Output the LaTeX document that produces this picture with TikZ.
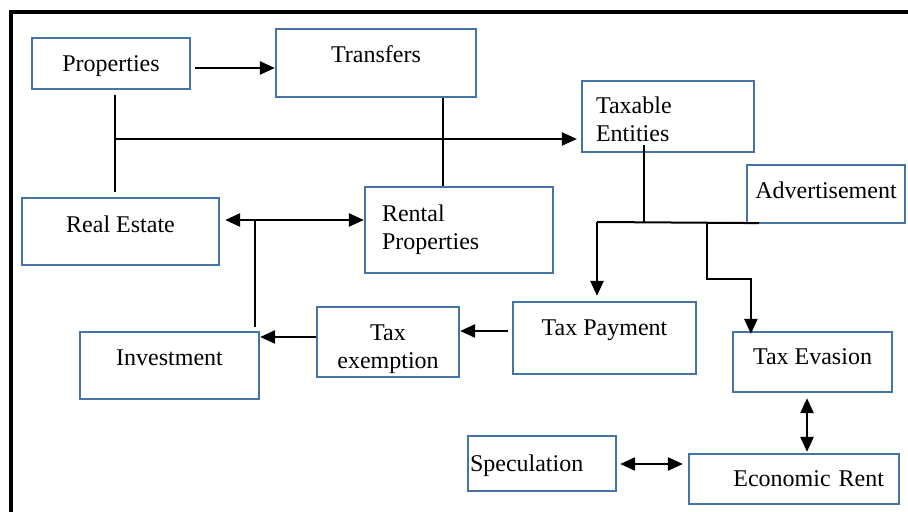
\documentclass[tikz,border=0pt]{standalone}
\usepackage{fontspec}
\setmainfont{Liberation Serif}
\usepackage{tikz}
\usetikzlibrary{arrows.meta,calc}
\definecolor{boxblue}{RGB}{70,115,165}

\begin{document}
\begin{tikzpicture}[x=0.5pt, y=-0.5pt, font=\fontsize{12}{14}\selectfont,
  >={Triangle[length=7.5pt,width=6.5pt]},
  box/.style={draw=boxblue, line width=1.1pt, inner sep=0pt, align=center},
  link/.style={line width=0.8pt},
  arr/.style={->, line width=1.2pt},
  darr/.style={<->, line width=1.2pt}]
\useasboundingbox (0,0) rectangle (908,512);
\draw[line width=2pt] (11.3,512) -- (11.3,12) -- (908,12);
% boxes
\node[box, minimum width=79pt, minimum height=25.5pt, text depth=0pt] (prop) at (111,63.5) {Properties};
\node[box, minimum width=100pt, minimum height=34pt, text depth=9pt] (trans) at (376,63) {Transfers};
\node[box, minimum width=86pt, minimum height=35.5pt, text width=72pt, inner xsep=7pt, align=left, text depth=11pt] (taxable) at (668,116.5) {Taxable\\Entities};
\node[box, minimum width=79pt, minimum height=29pt, text depth=3.5pt] (advert) at (826,194) {Advertisement};
\node[box, minimum width=98.5pt, minimum height=33.5pt, text depth=7pt] (real) at (120.5,231.5) {Real Estate};
\node[box, minimum width=94pt, minimum height=43pt, text width=77pt, inner xsep=8.5pt, align=left] (rental) at (459,230) {Rental\\Properties};
\node[box, minimum width=91.5pt, minimum height=36pt, text depth=10pt] (taxpay) at (604.5,338) {Tax Payment};
\node[box, minimum width=79.5pt, minimum height=30pt, text depth=5pt] (taxev) at (812.5,362) {Tax Evasion};
\node[box, minimum width=71pt, minimum height=35pt, text width=60pt, inner xsep=5.5pt, text depth=9.5pt] (taxex) at (388,342) {Tax\\exemption};
\node[box, minimum width=89.5pt, minimum height=33.5pt, text depth=8pt] (invest) at (169.5,365.5) {Investment};
\node[box, minimum width=74pt, minimum height=27.5pt, text width=72pt, inner xsep=1pt, align=left, text depth=0pt] (spec) at (542,463.5) {Speculation};
\node[box, minimum width=105pt, minimum height=25pt, text width=90pt, inner xsep=7.5pt, align=right] (econ) at (794,479) {Economic Rent};
% top part
\coordinate (pa) at ($(prop.east)+(4,4.5)$);
\draw[arr] (pa) -- (pa -| trans.west);
\coordinate (pj) at (115,139);
\draw[link] ($(pj |- prop.south)+(0,5)$) -- ($(pj |- real.north)+(0,-5)$);
\draw[arr, line width=1.1pt] (pj) -- ($(pj -| taxable.west)+(-4,0)$);
\coordinate (tr) at ($(trans.south east)+(-34,0)$);
\draw[link] (tr) -- (tr |- rental.north);
% taxable entities branches
\coordinate (tj) at ($(taxable.south)+(-24,-8)$);
\coordinate (bus) at (597,222);
\coordinate (bk) at (707,222);
\draw[link, line width=1pt] (tj) -- (tj |- bus);
\draw[link, line width=1pt] (bus) -- ($(advert.south west)+(13,-1)$);
\draw[arr] (bus) -- ($(bus |- taxpay.north)+(0,-5)$);
\draw[arr] (bk) |- ($(taxev.north west)+(19,-52)$) -- ($(taxev.north west)+(19,3)$);
% middle row
\coordinate (tp) at ($(taxpay.west)+(-4,-7)$);
\draw[arr] (tp) -- (tp -| taxex.east);
\coordinate (tx) at ($(taxex.west)+(0,-5)$);
\draw[arr] (tx) -- (tx -| invest.east);
\coordinate (rj) at (255,220);
\draw[darr] ($(real.east |- rj)+(5,0)$) -- (rj -| rental.west);
\draw[link] ($(rj |- invest.north)+(0,-4)$) -- (rj);
% bottom
\coordinate (ev) at ($(taxev.south)+(-5.5,5)$);
\draw[darr] (ev) -- ($(ev |- econ.north)+(0,-1)$);
\coordinate (sp) at ($(spec.east)+(3,0.5)$);
\draw[darr] (sp) -- ($(sp -| econ.west)+(-5,0)$);
\end{tikzpicture}
\end{document}
